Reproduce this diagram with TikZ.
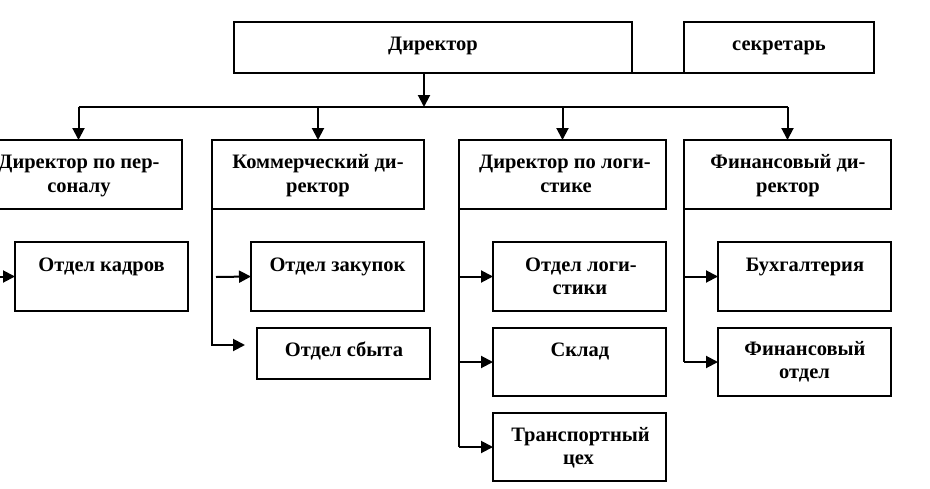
\documentclass[tikz,border=0pt]{standalone}
\usepackage{fontspec}
\setmainfont{Liberation Serif}
\usetikzlibrary{arrows.meta}
\tikzset{
  box/.style={draw, line width=2pt, inner sep=0pt, outer sep=0pt, anchor=north west},
  txt/.style={font=\bfseries\fontsize{20.5}{23}\selectfont, inner sep=0pt, anchor=base},
  conn/.style={line width=2pt},
  arr/.style={line width=2pt, -{Triangle[length=12pt,width=12pt]}}
}
\begin{document}
\begin{tikzpicture}[x=1pt,y=-1pt]
\useasboundingbox (0,0) rectangle (930,488);
\fill[white] (0,0) rectangle (930,488);
\clip (0,0) rectangle (930,488);
% boxes
\node[box, minimum width=398pt, minimum height=51pt] (dir) at (234,22) {};
\node[box, minimum width=190pt, minimum height=51pt] (sec) at (684,22) {};
\node[box, minimum width=207pt, minimum height=69pt] (pers) at (-25,140) {};
\node[box, minimum width=212pt, minimum height=69pt] (comm) at (212,140) {};
\node[box, minimum width=207pt, minimum height=69pt] (log) at (459,140) {};
\node[box, minimum width=207pt, minimum height=69pt] (fin) at (684,140) {};
\node[box, minimum width=173pt, minimum height=69pt] (kadry) at (15,242) {};
\node[box, minimum width=173pt, minimum height=69pt] (zak) at (251,242) {};
\node[box, minimum width=173pt, minimum height=51pt] (sbyt) at (257,328) {};
\node[box, minimum width=173pt, minimum height=69pt] (olog) at (493,242) {};
\node[box, minimum width=173pt, minimum height=68pt] (sklad) at (493,328) {};
\node[box, minimum width=173pt, minimum height=68pt] (trans) at (493,413) {};
\node[box, minimum width=173pt, minimum height=69pt] (buh) at (718,242) {};
\node[box, minimum width=173pt, minimum height=68pt] (fotd) at (718,328) {};
% texts
\node[txt] (tdir) at (433,50) {Директор};
\node[txt] (tsec) at (779,50) {секретарь};
\node[txt] (tpers1) at (79,168) {Директор по пер-};
\node[txt] (tpers2) at (79,192) {соналу};
\node[txt] (tcomm1) at (318,168) {Коммерческий ди-};
\node[txt] (tcomm2) at (318,192) {ректор};
\node[txt] (tlog1) at (565,168) {Директор по логи-};
\node[txt] (tlog2) at (566,192) {стике};
\node[txt] (tfin1) at (788,168) {Финансовый ди-};
\node[txt] (tfin2) at (788,192) {ректор};
\node[txt] (tkadry) at (101.5,271) {Отдел кадров};
\node[txt] (tzak) at (337.5,271) {Отдел закупок};
\node[txt] (tsbyt) at (344,356) {Отдел сбыта};
\node[txt] (tolog1) at (581,271) {Отдел логи-};
\node[txt] (tolog2) at (580,294) {стики};
\node[txt] (tsklad) at (580,356) {Склад};
\node[txt] (ttrans1) at (580.5,441) {Транспортный};
\node[txt] (ttrans2) at (578.5,464) {цех};
\node[txt] (tbuh) at (805,271) {Бухгалтерия};
\node[txt] (tfotd1) at (805,355) {Финансовый};
\node[txt] (tfotd2) at (804.5,378) {отдел};
% connectors
\coordinate (bus) at (424,107);
\coordinate (zakstart) at (216,277);
\draw[conn] (dir.south east) -- (sec.south west);
\draw[arr] (dir.south -| bus) -- (bus);
\draw[conn] (pers.north |- bus) -- (fin.north |- bus);
\draw[arr] (pers.north |- bus) -- (pers.north);
\draw[arr] (comm.north |- bus) -- (comm.north);
\draw[arr] (log.north |- bus) -- (log.north);
\draw[arr] (fin.north |- bus) -- (fin.north);
% personnel
\draw[arr] (pers.south west) |- (kadry.west);
% commercial
\draw[arr] (zakstart) -- (zak.west);
\draw[arr] (comm.south west) |- ([xshift=-12pt,yshift=8.5pt]sbyt.west);
% logistics
\draw[conn] (log.south west) -- (log.south west |- trans.west);
\draw[arr] (log.south west |- olog.west) -- (olog.west);
\draw[arr] (log.south west |- sklad.west) -- (sklad.west);
\draw[arr] (log.south west |- trans.west) -- (trans.west);
% finance
\draw[conn] (fin.south west) -- (fin.south west |- fotd.west);
\draw[arr] (fin.south west |- buh.west) -- (buh.west);
\draw[arr] (fin.south west |- fotd.west) -- (fotd.west);
\end{tikzpicture}
\end{document}
